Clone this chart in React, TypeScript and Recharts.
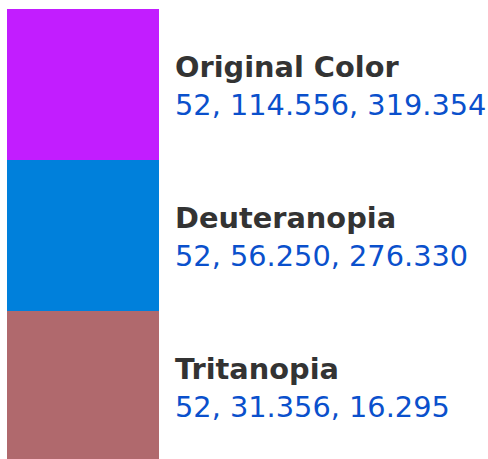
import React from "react";
import { BarChart, Bar, XAxis, YAxis, Cell, LabelList } from "recharts";

const swatchNames = ["Original Color", "Deuteranopia", "Tritanopia"];
const swatchValues = ["52, 114.556, 319.354", "52, 56.250, 276.330", "52, 31.356, 16.295"];
const swatchColors = ["#C21DFF", "#0080DB", "#B0696D"];

const data = swatchNames.map((name, i) => ({
  name,
  value: 1,
  label: swatchValues[i],
}));

const renderLabel = (props: any) => {
  const { x, y, width, index } = props;
  const tx = Number(x) + Number(width) + 16;
  const ty = Number(y);
  return (
    <g>
      <text
        x={tx}
        y={ty + 68}
        fill="#333333"
        fontFamily="DejaVu Sans"
        fontWeight="bold"
        fontSize={28.8}
      >
        {swatchNames[index]}
      </text>
      <text
        x={tx}
        y={ty + 106}
        fill="#0A50CC"
        fontFamily="DejaVu Sans"
        fontSize={28.8}
      >
        {swatchValues[index]}
      </text>
    </g>
  );
};

export default function App() {
  return (
    <div style={{ position: "absolute", left: 0, top: 0, width: 488, height: 462 }}>
      <BarChart
        width={488}
        height={462}
        data={data}
        layout="vertical"
        barCategoryGap={0}
        margin={{ top: 9, right: 329, bottom: 0, left: 7 }}
      >
        <XAxis type="number" domain={[0, 1]} hide />
        <YAxis type="category" dataKey="name" hide />
        <Bar dataKey="value" isAnimationActive={false}>
          {data.map((d, i) => (
            <Cell key={d.name} fill={swatchColors[i]} />
          ))}
          <LabelList dataKey="label" content={renderLabel} />
        </Bar>
      </BarChart>
    </div>
  );
}
